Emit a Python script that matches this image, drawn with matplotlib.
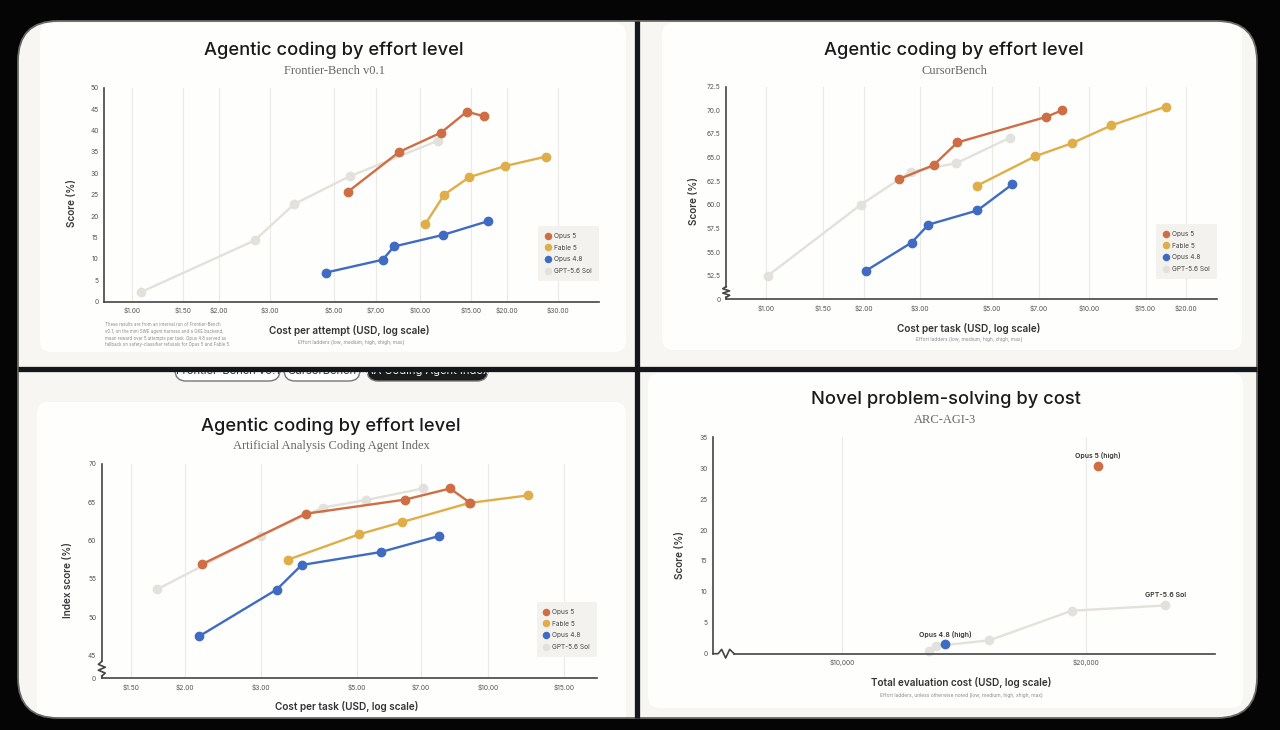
import matplotlib
matplotlib.use("Agg")
import matplotlib.pyplot as plt
from matplotlib.patches import FancyBboxPatch, Rectangle
from matplotlib.lines import Line2D
from matplotlib.transforms import blended_transform_factory
import matplotlib.ticker as mticker
import numpy as np

# ---------------- DATA ----------------
series_names = ["Opus 5", "Fable 5", "Opus 4.8", "GPT-5.6 Sol"]

# Frontier-Bench v0.1 (cost per attempt, score %)
fb_cost_opus5 = [5.61, 8.45, 11.8, 14.5, 16.7]
fb_score_opus5 = [25.7, 35.0, 39.5, 44.4, 43.3]
fb_cost_fable5 = [10.4, 12.1, 14.8, 19.7, 27.3]
fb_score_fable5 = [18.1, 25.0, 29.1, 31.7, 33.9]
fb_cost_opus48 = [4.70, 7.40, 8.11, 11.98, 17.15]
fb_score_opus48 = [6.8, 9.8, 12.9, 15.6, 18.8]
fb_cost_gpt = [1.07, 2.66, 3.65, 5.69, 11.5]
fb_score_gpt = [2.2, 14.3, 22.8, 29.3, 37.6]
fb_xticks = [1, 1.5, 2, 3, 5, 7, 10, 15, 20, 30]
fb_yticks = [0, 5, 10, 15, 20, 25, 30, 35, 40, 45, 50]

# CursorBench (cost per task, score %)
cb_cost_opus5 = [2.57, 3.30, 3.91, 7.37, 8.26]
cb_score_opus5 = [62.7, 64.2, 66.6, 69.3, 70.0]
cb_cost_fable5 = [4.49, 6.83, 8.84, 11.75, 17.35]
cb_score_fable5 = [62.0, 65.15, 66.5, 68.4, 70.4]
cb_cost_opus48 = [2.03, 2.82, 3.18, 4.51, 5.78]
cb_score_opus48 = [53.0, 56.0, 57.9, 59.4, 62.15]
cb_cost_gpt = [1.01, 1.96, 2.80, 3.88, 5.69]
cb_score_gpt = [52.5, 60.0, 63.5, 64.4, 67.1]
cb_xticks = [1, 1.5, 2, 3, 5, 7, 10, 15, 20]
cb_yticks = [50, 52.5, 55, 57.5, 60, 62.5, 65, 67.5, 70, 72.5]
cb_yticklabels = ["0", "52.5", "55.0", "57.5", "60.0", "62.5", "65.0", "67.5", "70.0", "72.5"]

# Artificial Analysis Coding Agent Index (cost per task, index score %)
aa_cost_opus5 = [2.19, 3.80, 6.45, 8.19, 9.09]
aa_score_opus5 = [56.9, 63.5, 65.35, 66.8, 64.96]
aa_cost_fable5 = [3.46, 5.04, 6.33, 9.05, 12.4]
aa_score_fable5 = [57.5, 60.8, 62.4, 64.9, 65.9]
aa_cost_opus48 = [2.16, 3.26, 3.72, 5.67, 7.73]
aa_score_opus48 = [47.5, 53.6, 56.8, 58.5, 60.6]
aa_cost_gpt = [1.73, 3.0, 4.16, 5.25, 7.08]
aa_score_gpt = [53.65, 60.65, 64.3, 65.3, 66.8]
aa_xticks = [1.5, 2, 3, 5, 7, 10, 15]
aa_yticks = [42, 45, 50, 55, 60, 65, 70]
aa_yticklabels = ["0", "45", "50", "55", "60", "65", "70"]

# ARC-AGI-3 (total evaluation cost, score %)
arc_cost_opus5 = [20670]
arc_score_opus5 = [30.3]
arc_cost_opus48 = [13400]
arc_score_opus48 = [1.5]
arc_cost_gpt = [12780, 13040, 15190, 19210, 25060]
arc_score_gpt = [0.43, 1.24, 2.16, 6.95, 7.8]
arc_xticks = [10000, 20000]
arc_yticks = [0, 5, 10, 15, 20, 25, 30, 35]

tab_labels = ["Frontier-Bench v0.1", "CursorBench", "AA Coding Agent Index"]

# ---------------- STYLE ----------------
W, H = 1280, 730
SANS = ['Inter', 'DejaVu Sans']
SERIF = ['Liberation Serif', 'DejaVu Serif']
plt.rcParams['font.family'] = SANS

C_OPUS5 = '#cf6d45'
C_FABLE5 = '#dfae48'
C_OPUS48 = '#3f6cc2'
C_GPT = '#e3e1dc'
SER_COLORS = [C_OPUS5, C_FABLE5, C_OPUS48, C_GPT]
AXC = '#454545'

TICK_FS = 4.8
LABEL_FS = 7.2

fig = plt.figure(figsize=(W / 100, H / 100), dpi=100, facecolor='#050505')

bg = fig.add_axes([0, 0, 1, 1], zorder=-5)
bg.set_xlim(0, W)
bg.set_ylim(H, 0)
bg.axis('off')

frame = FancyBboxPatch((18, 21), 1239, 697, boxstyle='round,pad=0,rounding_size=40',
                       fc='#f7f6f2', ec='none')
bg.add_patch(frame)


def card(x0, y0, x1, y1, r=12):
    p = FancyBboxPatch((x0, y0), x1 - x0, y1 - y0,
                       boxstyle=f'round,pad=0,rounding_size={r}', fc='#fefefd', ec='none')
    bg.add_patch(p)
    p.set_clip_path(frame)


card(40, 23, 626, 352)
card(662, 23, 1242, 350)
card(37, 402, 626, 740)
card(648, 373, 1243, 708)

# tabs (cut off by divider)
clip_rect = Rectangle((0, 371), W, 40, transform=bg.transData)
tabs = [(175, 280, 'white', '#333333'), (284, 360, 'white', '#333333'), (367, 488, '#1b1b1b', 'white')]
for (x0, x1, fc, tc), lab in zip(tabs, tab_labels):
    p = FancyBboxPatch((x0, 359), x1 - x0, 22, boxstyle='round,pad=0,rounding_size=11',
                       fc=fc, ec='#777777', lw=1.0)
    bg.add_patch(p)
    p.set_clip_path(clip_rect)
    t = bg.text((x0 + x1) / 2, 371.5, lab, ha='center', va='center', fontsize=8, color=tc)
    t.set_clip_path(clip_rect)
    t.set_clip_on(True)


def title(cx, cy, main, sub, sub_y):
    bg.text(cx, cy, main, ha='center', va='center', fontsize=13.2, color='#1a1a1a',
            fontweight='medium')
    bg.text(cx, sub_y, sub, ha='center', va='center', fontsize=9, color='#666666', family=SERIF)


def make_ax(x0, y0, x1, y1):
    ax = fig.add_axes([x0 / W, 1 - y1 / H, (x1 - x0) / W, (y1 - y0) / H])
    ax.set_facecolor('none')
    for s in ['top', 'right']:
        ax.spines[s].set_visible(False)
    for s in ['left', 'bottom']:
        ax.spines[s].set_color(AXC)
        ax.spines[s].set_linewidth(1.2)
    ax.tick_params(length=0, labelsize=TICK_FS, labelcolor='#555555', pad=4)
    ax.grid(axis='x', color='#ebeae7', lw=0.8)
    ax.set_axisbelow(True)
    return ax


def plot_series(ax, x, y, color, ms=6.0, lw=1.7, z=3):
    ax.plot(x, y, '-o', color=color, lw=lw, ms=ms, mec=color, clip_on=False, zorder=z)


def add_legend(ax, xr, yt):
    handles = [Line2D([], [], ls='none', marker='o', color=c, ms=4.4) for c in SER_COLORS]
    leg = ax.legend(handles, series_names, loc='upper right',
                    bbox_to_anchor=(xr / W, 1 - yt / H), bbox_transform=fig.transFigure,
                    fontsize=4.7, frameon=True, facecolor='#f3f2ee', edgecolor='none',
                    framealpha=1, handlelength=0.8, handletextpad=0.5, labelspacing=0.85,
                    borderpad=1.1, borderaxespad=0)
    for t in leg.get_texts():
        t.set_color('#444444')


def ybreak(ax, y_top, y_bot):
    tr = blended_transform_factory(ax.transAxes, ax.transData)
    ys = np.linspace(y_top, y_bot, 6)
    dx = 0.007
    xs = [0, -dx, dx, -dx, dx, 0]
    ax.plot(xs, ys, color=AXC, lw=1.2, transform=tr, clip_on=False, zorder=5)


def money(v):
    return f"${v:.2f}"


def ylab(x, y, s):
    bg.text(x, y, s, rotation=90, ha='center', va='center', fontsize=LABEL_FS,
            fontweight='semibold', color='#3a3a3a')


def xlab(x, y, s):
    bg.text(x, y, s, ha='center', va='center', fontsize=LABEL_FS,
            fontweight='semibold', color='#333333')


def note(x, y, s):
    bg.text(x, y, s, ha='center', va='center', fontsize=3.5, color='#8a8a8a')


# ---------------- PANEL 1: Frontier-Bench ----------------
title(334, 50, "Agentic coding by effort level", "Frontier-Bench v0.1", 71.5)
ax1 = make_ax(104.2, 87.7, 599.3, 301.7)
ax1.set_xscale('log')
ax1.set_xlim(0.80, 41.8)
ax1.set_ylim(0, 50)
ax1.xaxis.set_minor_locator(mticker.NullLocator())
ax1.set_xticks(fb_xticks)
ax1.set_xticklabels([money(v) for v in fb_xticks])
ax1.set_yticks(fb_yticks)
ax1.set_yticklabels([str(v) for v in fb_yticks])
plot_series(ax1, fb_cost_gpt, fb_score_gpt, C_GPT, z=2)
plot_series(ax1, fb_cost_opus48, fb_score_opus48, C_OPUS48, z=3)
plot_series(ax1, fb_cost_fable5, fb_score_fable5, C_FABLE5, z=4)
plot_series(ax1, fb_cost_opus5, fb_score_opus5, C_OPUS5, z=5)
add_legend(ax1, 599, 226)
ylab(71.5, 203, "Score (%)")
xlab(349, 330.5, "Cost per attempt (USD, log scale)")
note(351, 342.5, "Effort ladders (low, medium, high, xhigh, max)")
foot = ("These results are from an internal run of Frontier-Bench\n"
        "v0.1, on the mini SWE agent harness and a GKE backend,\n"
        "mean reward over 5 attempts per task. Opus 4.8 served as\n"
        "fallback on safety-classifier refusals for Opus 5 and Fable 5.")
bg.text(105, 322, foot, ha='left', va='top', fontsize=3.1, color='#8a8a8a', linespacing=1.45)

# ---------------- PANEL 2: CursorBench ----------------
title(954, 50, "Agentic coding by effort level", "CursorBench", 71)
ax2 = make_ax(726.2, 86.7, 1216.5, 299.3)
ax2.set_xscale('log')
ax2.set_xlim(0.75, 24.9)
ax2.set_ylim(50, 72.5)
ax2.xaxis.set_minor_locator(mticker.NullLocator())
ax2.set_xticks(cb_xticks)
ax2.set_xticklabels([money(v) for v in cb_xticks])
ax2.set_yticks(cb_yticks)
ax2.set_yticklabels(cb_yticklabels)
ax2.spines['left'].set_bounds(51.35, 72.5)
ybreak(ax2, 51.35, 50.2)
ax2.plot([0, 0], [50.2, 50], color=AXC, lw=1.2, clip_on=False,
         transform=blended_transform_factory(ax2.transAxes, ax2.transData))
plot_series(ax2, cb_cost_gpt, cb_score_gpt, C_GPT, z=2)
plot_series(ax2, cb_cost_opus48, cb_score_opus48, C_OPUS48, z=3)
plot_series(ax2, cb_cost_fable5, cb_score_fable5, C_FABLE5, z=4)
plot_series(ax2, cb_cost_opus5, cb_score_opus5, C_OPUS5, z=5)
add_legend(ax2, 1216.5, 224)
ylab(693.5, 201, "Score (%)")
xlab(969, 328, "Cost per task (USD, log scale)")
note(969, 340, "Effort ladders (low, medium, high, xhigh, max)")

# ---------------- PANEL 3: AA Coding Agent Index ----------------
title(331, 426.5, "Agentic coding by effort level", "Artificial Analysis Coding Agent Index", 446.5)
ax3 = make_ax(101.8, 464, 597.3, 678.3)
ax3.set_xscale('log')
ax3.set_xlim(1.287, 17.9)
ax3.set_ylim(42, 70)
ax3.xaxis.set_minor_locator(mticker.NullLocator())
ax3.set_xticks(aa_xticks)
ax3.set_xticklabels([money(v) for v in aa_xticks])
ax3.set_yticks(aa_yticks)
ax3.set_yticklabels(aa_yticklabels)
ax3.spines['left'].set_bounds(44.2, 70)
ybreak(ax3, 44.2, 42.3)
ax3.plot([0, 0], [42.3, 42], color=AXC, lw=1.2, clip_on=False,
         transform=blended_transform_factory(ax3.transAxes, ax3.transData))
plot_series(ax3, aa_cost_gpt, aa_score_gpt, C_GPT, z=2)
plot_series(ax3, aa_cost_opus48, aa_score_opus48, C_OPUS48, z=3)
plot_series(ax3, aa_cost_fable5, aa_score_fable5, C_FABLE5, z=4)
plot_series(ax3, aa_cost_opus5, aa_score_opus5, C_OPUS5, z=5)
add_legend(ax3, 597.3, 602)
ylab(68.5, 580, "Index score (%)")
xlab(346.5, 707, "Cost per task (USD, log scale)")

# ---------------- PANEL 4: ARC-AGI-3 ----------------
title(945.5, 399, "Novel problem-solving by cost", "ARC-AGI-3", 420)
ax4 = make_ax(713.1, 437.3, 1215.3, 653.7)
ax4.set_xscale('log')
ax4.set_xlim(6920, 28900)
ax4.set_ylim(0, 35)
ax4.xaxis.set_minor_locator(mticker.NullLocator())
ax4.set_xticks(arc_xticks)
ax4.set_xticklabels([f"${v:,.0f}" for v in arc_xticks])
ax4.set_yticks(arc_yticks)
ax4.set_yticklabels([str(v) for v in arc_yticks])
lx0, lx1 = np.log10(6920), np.log10(28900)
ax4.spines['bottom'].set_bounds(10 ** (lx0 + 0.042 * (lx1 - lx0)), 28900)
ax4.plot([0, 0.01, 0.017, 0.025, 0.033, 0.042], [0, 0, 0.02, -0.02, 0.02, 0],
         color=AXC, lw=1.2, transform=ax4.transAxes, clip_on=False, zorder=5)
plot_series(ax4, arc_cost_gpt, arc_score_gpt, C_GPT, z=2)
plot_series(ax4, arc_cost_opus48, arc_score_opus48, C_OPUS48, z=3)
plot_series(ax4, arc_cost_opus5, arc_score_opus5, C_OPUS5, z=5)
ann = dict(textcoords='offset points', ha='center', va='center', fontsize=5.0,
           fontweight='semibold', color='#333333')
ax4.annotate("Opus 5 (high)", (arc_cost_opus5[0], arc_score_opus5[0]), xytext=(0, 7.5), **ann)
ax4.annotate("Opus 4.8 (high)", (arc_cost_opus48[0], arc_score_opus48[0]), xytext=(0, 7.5), **ann)
ax4.annotate("GPT-5.6 Sol", (arc_cost_gpt[-1], arc_score_gpt[-1]), xytext=(0, 7.5), **ann)
ylab(679.5, 555, "Score (%)")
xlab(961, 683, "Total evaluation cost (USD, log scale)")
note(961, 695.5, "Effort ladders, unless otherwise noted (low, medium, high, xhigh, max)")

# ---------------- OVERLAY: dividers and frame rim ----------------
ov = fig.add_axes([0, 0, 1, 1], zorder=20)
ov.set_xlim(0, W)
ov.set_ylim(H, 0)
ov.axis('off')
ov.set_facecolor('none')
ov.plot([637, 637], [21, 718], color='#13161b', lw=3.8, solid_capstyle='butt')
ov.plot([18, 1257], [368.5, 368.5], color='#13161b', lw=3.8, solid_capstyle='butt')
ov.add_patch(FancyBboxPatch((18, 21), 1239, 697, boxstyle='round,pad=0,rounding_size=40',
                            fc='none', ec='#6a6a6a', lw=1.3))

fig.savefig('out.png', dpi=100, facecolor=fig.get_facecolor())
